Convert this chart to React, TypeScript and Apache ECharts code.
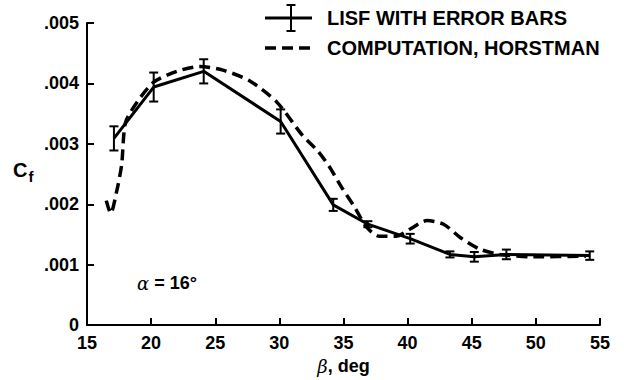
import React, { useEffect, useRef } from "react";
import * as echarts from "echarts";

// LISF measurements (beta in deg, Cf, half error bar)
const LISF_BETA = [17.1, 20.2, 24.1, 30.1, 34.2, 36.9, 40.2, 43.3, 45.2, 47.7, 54.2];
const LISF_CF = [0.00309, 0.00394, 0.0042, 0.00337, 0.00199, 0.00167, 0.00143, 0.00117, 0.00113, 0.00117, 0.00115];
const LISF_ERR = [0.0002, 0.00024, 0.0002, 0.0002, 0.0001, 0.00005, 0.00008, 0.00005, 0.00008, 0.00008, 0.00007];

// Computation, Horstman (dashed)
const COMP_BETA = [16.5, 16.85, 17.3, 17.7, 18.0, 18.9, 20.2, 22.0, 23.8, 25.6, 27.7, 29.8, 31.8, 33.0, 33.9, 34.8, 35.9, 36.8, 37.8, 39.1, 40.2, 41.5, 42.8, 44.1, 45.6, 47.2, 49.8, 53.9];
const COMP_CF = [0.00206, 0.00185, 0.0022, 0.00265, 0.00335, 0.00369, 0.00402, 0.0042, 0.00428, 0.00422, 0.00404, 0.00369, 0.00314, 0.00288, 0.00262, 0.0023, 0.00194, 0.00162, 0.00147, 0.00147, 0.00159, 0.00173, 0.00167, 0.00145, 0.00126, 0.00117, 0.00113, 0.00114];

const X_MIN = 15, X_MAX = 55, X_STEP = 5;
const Y_MIN = 0, Y_MAX = 0.005, Y_STEP = 0.001;

const LEGEND_LABELS = ["LISF WITH ERROR BARS", "COMPUTATION, HORSTMAN"];

const FONT = "'Liberation Sans', Arial, Helvetica, sans-serif";
const SERIF = "'DejaVu Serif', 'Liberation Serif', serif";

export default function App() {
  const ref = useRef<HTMLDivElement>(null);
  useEffect(() => {
    if (!ref.current) return;
    const chart = echarts.init(ref.current, null, { renderer: "svg" });
    const lisf = LISF_BETA.map((b, i) => [b, LISF_CF[i]]);
    const bars = LISF_BETA.map((b, i) => [b, LISF_CF[i], LISF_ERR[i]]);
    const comp = COMP_BETA.map((b, i) => [b, COMP_CF[i]]);
    const lx = 265, lx2 = 312;
    chart.setOption({
      animation: false,
      backgroundColor: "#fff",
      grid: { left: 87, right: 24, top: 23, bottom: 51, containLabel: false },
      xAxis: {
        type: "value",
        min: X_MIN,
        max: X_MAX,
        interval: X_STEP,
        name: "{b|β}, deg",
        nameLocation: "middle",
        nameGap: 30,
        nameTextStyle: {
          color: "#000",
          fontFamily: FONT,
          fontWeight: "bold",
          fontSize: 18,
          rich: {
            b: { fontFamily: SERIF, fontStyle: "italic", fontWeight: "normal", fontSize: 18, color: "#000" },
          },
        },
        axisLine: { lineStyle: { color: "#000", width: 2 } },
        axisTick: { inside: true, length: 7, lineStyle: { color: "#000", width: 2 } },
        axisLabel: { color: "#000", fontFamily: FONT, fontWeight: "bold", fontSize: 18, margin: 9 },
        splitLine: { show: false },
      },
      yAxis: {
        type: "value",
        min: Y_MIN,
        max: Y_MAX,
        interval: Y_STEP,
        axisLine: { show: true, lineStyle: { color: "#000", width: 2 } },
        axisTick: { show: true, inside: true, length: 7, lineStyle: { color: "#000", width: 2 } },
        axisLabel: {
          color: "#000",
          fontFamily: FONT,
          fontWeight: "bold",
          fontSize: 18,
          margin: 8,
          formatter: (v: number) => (v === 0 ? "0" : "." + String(Math.round(v * 1000)).padStart(3, "0")),
        },
        splitLine: { show: false },
      },
      series: [
        {
          type: "line",
          data: comp,
          smooth: 0.25,
          showSymbol: false,
          symbol: "none",
          lineStyle: { color: "#000", width: 3.5, type: [11, 6] },
          z: 2,
        },
        {
          type: "line",
          data: lisf,
          showSymbol: false,
          symbol: "none",
          lineStyle: { color: "#000", width: 3 },
          z: 3,
        },
        {
          type: "custom",
          data: bars,
          z: 4,
          renderItem: (params: any, api: any) => {
            const x = api.value(0), c = api.value(1), e = api.value(2);
            const top = api.coord([x, c + e]);
            const bot = api.coord([x, c - e]);
            const hw = 4.5;
            const st = { stroke: "#000", lineWidth: 2 };
            return {
              type: "group",
              children: [
                { type: "line", shape: { x1: top[0], y1: top[1], x2: bot[0], y2: bot[1] }, style: st },
                { type: "line", shape: { x1: top[0] - hw, y1: top[1], x2: top[0] + hw, y2: top[1] }, style: st },
                { type: "line", shape: { x1: bot[0] - hw, y1: bot[1], x2: bot[0] + hw, y2: bot[1] }, style: st },
              ],
            };
          },
        },
      ],
      graphic: [
        // legend row 1
        { type: "line", shape: { x1: lx, y1: 18, x2: lx2, y2: 18 }, style: { stroke: "#000", lineWidth: 3 } },
        { type: "line", shape: { x1: 291, y1: 5, x2: 291, y2: 31 }, style: { stroke: "#000", lineWidth: 2 } },
        { type: "line", shape: { x1: 286.5, y1: 5, x2: 295.5, y2: 5 }, style: { stroke: "#000", lineWidth: 2 } },
        { type: "line", shape: { x1: 286.5, y1: 31, x2: 295.5, y2: 31 }, style: { stroke: "#000", lineWidth: 2 } },
        {
          type: "text",
          x: 327,
          y: 18,
          style: { text: LEGEND_LABELS[0], fill: "#000", font: `bold 20px ${FONT}`, verticalAlign: "middle", align: "left" },
        },
        // legend row 2
        { type: "line", shape: { x1: lx, y1: 48, x2: lx2, y2: 48 }, style: { stroke: "#000", lineWidth: 3.5, lineDash: [11, 6] } },
        {
          type: "text",
          x: 327,
          y: 48,
          style: { text: LEGEND_LABELS[1], fill: "#000", font: `bold 20px ${FONT}`, verticalAlign: "middle", align: "left" },
        },
        // y axis name C_f
        {
          type: "text",
          x: 13,
          y: 170,
          style: {
            text: "{c|C}{s|f}",
            verticalAlign: "middle",
            rich: {
              c: { fontFamily: FONT, fontWeight: "bold", fontSize: 20, fill: "#000", verticalAlign: "middle" },
              s: { fontFamily: FONT, fontWeight: "bold", fontSize: 15, fill: "#000", padding: [12, 0, 0, 1] },
            },
          },
        },
        // alpha annotation
        {
          type: "text",
          x: 137,
          y: 283,
          style: {
            text: "{a|α} = 16°",
            fill: "#000",
            font: `bold 18px ${FONT}`,
            verticalAlign: "middle",
            rich: {
              a: { fontFamily: SERIF, fontStyle: "italic", fontWeight: "normal", fontSize: 18, fill: "#000" },
            },
          },
        },
      ],
    });
    return () => chart.dispose();
  }, []);
  return <div ref={ref} style={{ position: "absolute", left: 0, top: 0, width: 624, height: 380 }} />;
}
